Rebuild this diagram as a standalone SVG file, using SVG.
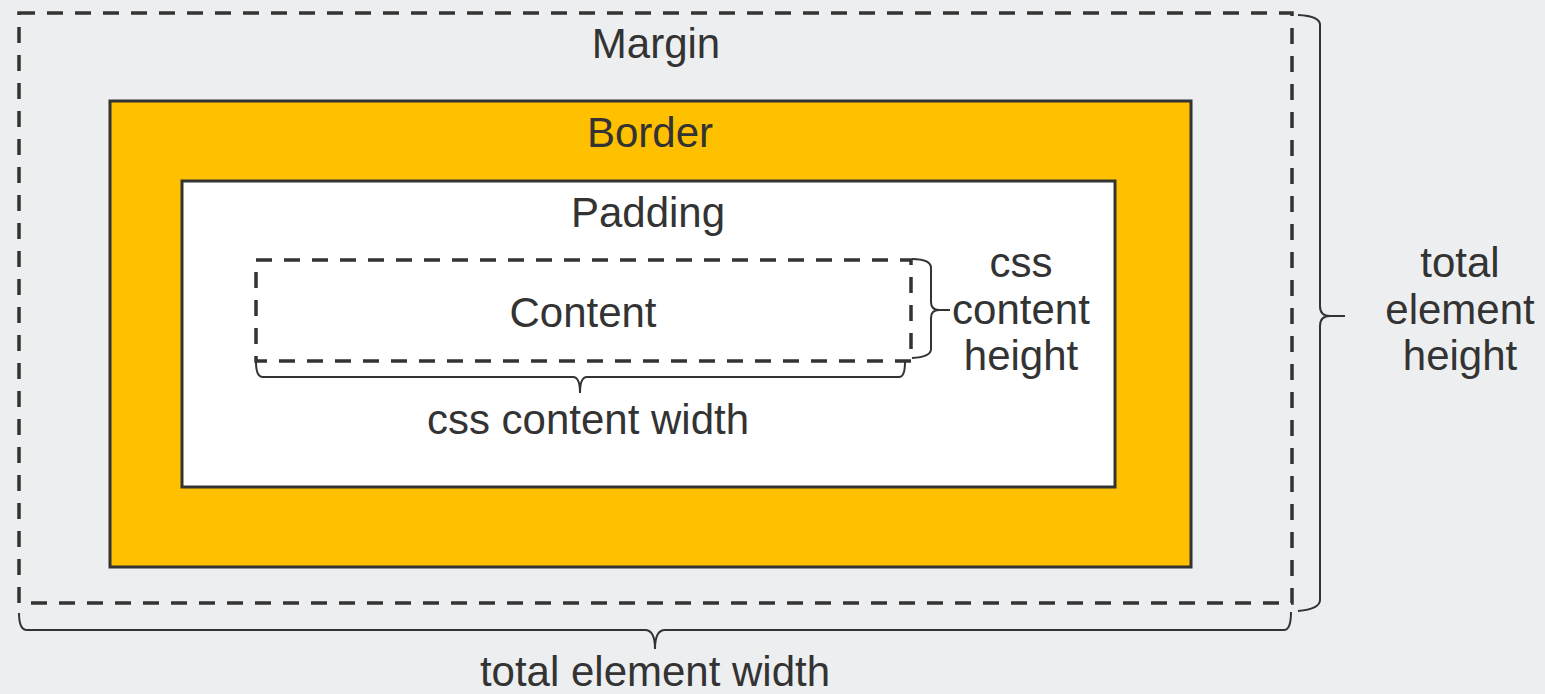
<svg xmlns="http://www.w3.org/2000/svg" width="1545" height="694" viewBox="0 0 1545 694">
<style>
.t{font-family:"Liberation Sans",Arial,sans-serif;font-size:42px;fill:#333;text-anchor:middle}
.dash{fill:none;stroke:#333;stroke-width:3.5;stroke-dasharray:16 12}
.solid{stroke:#333;stroke-width:3}
.brace{fill:none;stroke:#333;stroke-width:2}
</style>
<rect width="1545" height="694" fill="#EDEEF0"/>
<g id="margin">
<rect class="dash" x="19" y="13" width="1273" height="590"/>
<text class="t" x="656" y="58">Margin</text>
</g>
<g id="border">
<rect class="solid" x="110" y="101" width="1081" height="466" fill="#FFC000"/>
<text class="t" x="650" y="147">Border</text>
</g>
<g id="padding">
<rect class="solid" x="182" y="181" width="933" height="306" fill="#FFFFFF"/>
<text class="t" x="648" y="227">Padding</text>
</g>
<g id="content">
<rect class="dash" x="256" y="260" width="655" height="101"/>
<text class="t" x="583" y="327">Content</text>
</g>
<g id="connectors">
<path class="brace" d="M256,362 Q256,377 263,377 L573,377 Q580,377 580,393 Q580,377 587,377 L899,377 Q905,377 905,362"/>
<path class="brace" d="M912,259 Q931,259 931,268 L931,302 Q931,310 939,310 L950,310 M939,310 Q931,310 931,318 L931,349 Q931,357 912,358"/>
<path class="brace" d="M1298,15 Q1320,16 1320,25 L1320,306 Q1320,316 1330,316 L1345,316 M1330,316 Q1320,316 1320,326 L1320,600 Q1320,609 1298,611"/>
<path class="brace" d="M19,613 Q19,630 27,630 L645,630 Q655,630 655,649 Q655,630 665,630 L1284,630 Q1291,630 1291,612"/>
</g>
<g id="label-content-width"><text class="t" x="588" y="434">css content width</text></g>
<g id="label-content-height"><text class="t" x="1021" y="277">css</text><text class="t" x="1021" y="324">content</text><text class="t" x="1021" y="370">height</text></g>
<g id="label-total-height"><text class="t" x="1460" y="277">total</text><text class="t" x="1460" y="324">element</text><text class="t" x="1460" y="370">height</text></g>
<g id="label-total-width"><text class="t" x="655" y="686">total element width</text></g>
</svg>
